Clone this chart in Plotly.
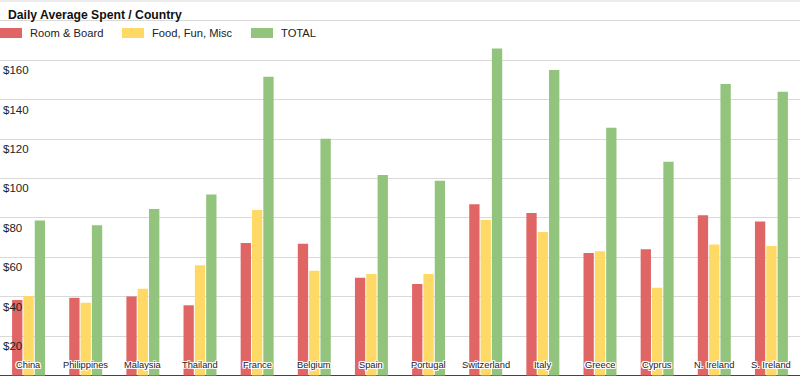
import plotly.graph_objects as go

countries = ["China", "Philippines", "Malaysia", "Thailand", "France", "Belgium", "Spain",
             "Portugal", "Switzerland", "Italy", "Greece", "Cyprus", "N. Ireland", "S. Ireland"]
room_board = [38.3, 39.4, 40.1, 35.6, 67.2, 66.9, 49.6, 46.4, 86.9, 82.4, 62.1, 64.0, 81.3, 78.1]
food_fun = [40.3, 36.9, 44.0, 55.9, 84.0, 53.1, 51.5, 51.5, 78.9, 72.8, 63.1, 44.5, 66.5, 65.7]
total = [78.7, 76.3, 84.5, 91.8, 151.6, 120.2, 101.7, 98.8, 166.0, 155.0, 125.7, 108.5, 147.9, 144.0]

series_names = ["Room & Board", "Food, Fun, Misc", "TOTAL"]
series_colors = ["#e06666", "#ffd966", "#93c47d"]

tick_vals = [20, 40, 60, 80, 100, 120, 140, 160, 180]
tick_text = ["$20", "$40", "$60", "$80", "$100", "$120", "$140", "$160", ""]

W, H = 800, 376
FONT = "Liberation Sans, Arial, sans-serif"

fig = go.Figure()
for name, vals, col in zip(series_names, [room_board, food_fun, total], series_colors):
    fig.add_trace(go.Bar(x=countries, y=vals, name=name, marker=dict(color=col, line=dict(width=0)),
                         showlegend=False))

halo = "1px 1px 0 #fff, -1px -1px 0 #fff, 1px -1px 0 #fff, -1px 1px 0 #fff, 0 1px 0 #fff, 0 -1px 0 #fff, 1px 0 0 #fff, -1px 0 0 #fff"

fig.update_layout(
    width=W, height=H,
    margin=dict(l=0, r=0, t=0, b=0),
    paper_bgcolor="white", plot_bgcolor="white",
    barmode="group", bargap=0.405, bargroupgap=0.09,
    font=dict(family=FONT, color="#222"),
    title=dict(text="<b>Daily Average Spent / Country</b>", x=8 / W, xanchor="left",
               y=1 - 15 / H, yanchor="middle", xref="paper", yref="container",
               font=dict(family=FONT, size=12.2, color="#111")),
    xaxis=dict(type="category", range=[-0.5, 13.5], showgrid=False, showline=False,
               ticks="", showticklabels=False),
    yaxis=dict(range=[-0.3, 190.6], tickvals=tick_vals, ticktext=tick_text,
               showgrid=True, gridcolor="#d9d9d9", gridwidth=1,
               zeroline=True, zerolinecolor="#444", zerolinewidth=1,
               ticks="", ticklabelposition="inside", ticklabelshift=10, ticklabelstandoff=0,
               tickfont=dict(family=FONT, size=11.5, color="#222")),
)

# category labels drawn inside the plot at the baseline
for c in countries:
    fig.add_annotation(xref="x", yref="paper", x=c, y=0, yanchor="middle", yshift=11,
                       showarrow=False, text=c,
                       font=dict(family=FONT, size=9.3, color="#222", shadow=halo))

# top frame line
fig.add_shape(type="line", xref="paper", yref="paper", x0=0, x1=1, y0=1 - 1 / H, y1=1 - 1 / H,
              line=dict(color="#d9d9d9", width=1), layer="below")

# custom legend
leg_x = [0, 122, 251]
for name, col, lx in zip(series_names, series_colors, leg_x):
    fig.add_shape(type="rect", xref="paper", yref="paper",
                  x0=lx / W, x1=(lx + 22) / W, y0=1 - 38 / H, y1=1 - 28 / H,
                  line=dict(width=0), fillcolor=col, layer="above")
    fig.add_annotation(xref="paper", yref="paper", x=(lx + 28) / W, y=1 - 33 / H,
                       xanchor="left", yanchor="middle", showarrow=False, text=name,
                       font=dict(family=FONT, size=11.2, color="#222"))

fig.write_html("out.html", config={"displayModeBar": False},
               post_script="document.body.style.margin='0';document.body.style.overflow='hidden';")
